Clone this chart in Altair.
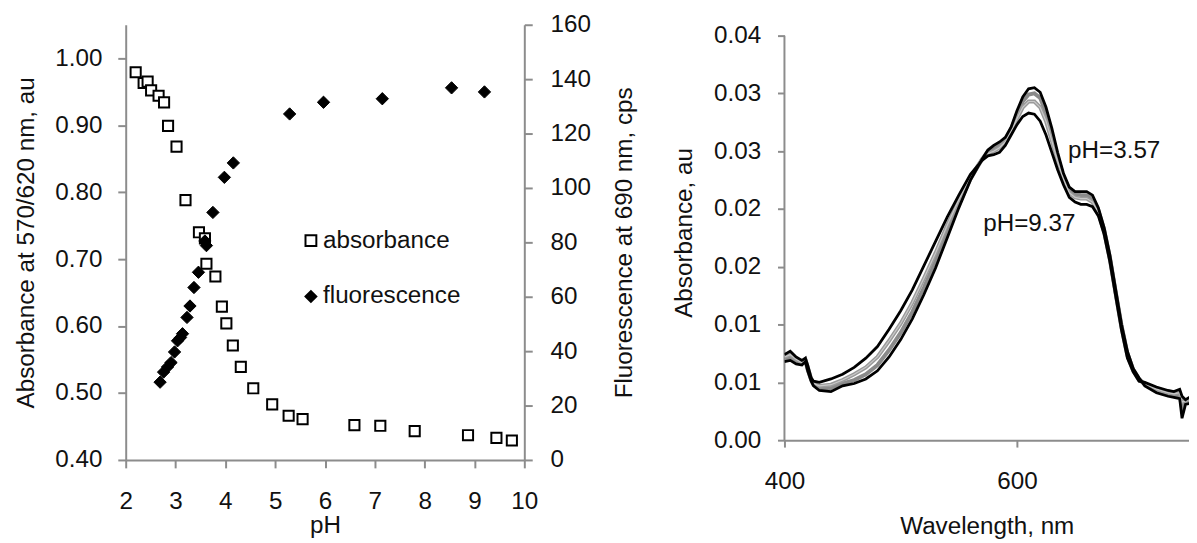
import altair as alt
import pandas as pd

# ---------------- data: left panel ----------------
abs_ph = [2.20, 2.36, 2.44, 2.51, 2.66, 2.77, 2.85, 3.02, 3.20, 3.47, 3.59, 3.62, 3.80,
          3.93, 4.02, 4.15, 4.31, 4.56, 4.94, 5.27, 5.55, 6.59, 7.11, 7.80, 8.87, 9.44, 9.75]
abs_val = [0.979, 0.963, 0.965, 0.952, 0.944, 0.934, 0.899, 0.868, 0.788, 0.740, 0.731, 0.693, 0.674,
           0.629, 0.604, 0.571, 0.539, 0.507, 0.483, 0.466, 0.461, 0.452, 0.451, 0.443, 0.437, 0.433, 0.429]

fl_ph = [2.69, 2.76, 2.84, 2.91, 2.98, 3.04, 3.10, 3.14, 3.23, 3.29, 3.37, 3.46, 3.59, 3.62,
         3.75, 3.98, 4.16, 5.29, 5.97, 7.15, 8.54, 9.20]
fl_val = [28.6, 32.3, 34.2, 35.8, 39.7, 43.8, 45.0, 46.4, 52.4, 56.6, 63.4, 69.0, 80.5, 78.8,
          91.0, 103.9, 109.2, 127.2, 131.5, 132.8, 136.8, 135.3]

series_names = ["absorbance", "fluorescence"]

# ---------------- data: right panel ----------------
wl = [400, 405, 410, 415, 418, 420, 423, 425, 430, 440, 450, 460, 470, 480, 490, 500, 510, 520,
      530, 540, 550, 560, 570, 575, 580, 585, 590, 595, 600, 605, 610, 615, 620, 625, 630, 635,
      640, 645, 650, 655, 660, 665, 670, 675, 680, 685, 690, 695, 700, 705, 710, 720, 730, 735,
      740, 742, 745, 750]
spec_low = [0.0074, 0.0077, 0.0072, 0.0069, 0.0071, 0.0065, 0.0054, 0.0051, 0.0050, 0.0053, 0.0057,
            0.0063, 0.0071, 0.0081, 0.0096, 0.0112, 0.0130, 0.0151, 0.0172, 0.0193, 0.0212, 0.0230,
            0.0242, 0.0246, 0.0247, 0.0249, 0.0255, 0.0264, 0.0273, 0.0280, 0.0283, 0.0282, 0.0276,
            0.0264, 0.0249, 0.0234, 0.0221, 0.0210, 0.0206, 0.0204, 0.0204, 0.0202, 0.0194, 0.0178,
            0.0154, 0.0124, 0.0095, 0.0071, 0.0059, 0.0051, 0.0050, 0.0046, 0.0043, 0.0042, 0.0044,
            0.0038, 0.0035, 0.0038]
spec_high = [0.0068, 0.0069, 0.0066, 0.0065, 0.0068, 0.0060, 0.0051, 0.0047, 0.0043, 0.0042, 0.0047,
             0.0049, 0.0053, 0.0060, 0.0072, 0.0087, 0.0105, 0.0126, 0.0149, 0.0175, 0.0201, 0.0225,
             0.0243, 0.0251, 0.0255, 0.0258, 0.0262, 0.0271, 0.0285, 0.0297, 0.0304, 0.0305, 0.0301,
             0.0288, 0.0270, 0.0249, 0.0231, 0.0219, 0.0215, 0.0215, 0.0215, 0.0212, 0.0201, 0.0184,
             0.0160, 0.0130, 0.0100, 0.0077, 0.0062, 0.0054, 0.0047, 0.0041, 0.0038, 0.0037, 0.0036,
             0.0019, 0.0031, 0.0032]
spec_g1 = [0.0070, 0.0071, 0.0068, 0.0066, 0.0069, 0.0061, 0.0052, 0.0048, 0.0045, 0.0045, 0.0049,
           0.0052, 0.0057, 0.0065, 0.0078, 0.0093, 0.0111, 0.0132, 0.0155, 0.0180, 0.0204, 0.0226,
           0.0243, 0.0250, 0.0253, 0.0256, 0.0260, 0.0269, 0.0282, 0.0293, 0.0299, 0.0300, 0.0296,
           0.0283, 0.0265, 0.0245, 0.0228, 0.0217, 0.0213, 0.0212, 0.0212, 0.0209, 0.0199, 0.0182,
           0.0158, 0.0128, 0.0099, 0.0075, 0.0061, 0.0053, 0.0048, 0.0043, 0.0040, 0.0039, 0.0039,
           0.0028, 0.0033, 0.0034]
spec_g2 = [0.0072, 0.0074, 0.0070, 0.0067, 0.0070, 0.0063, 0.0053, 0.0049, 0.0047, 0.0048, 0.0052,
           0.0057, 0.0063, 0.0072, 0.0086, 0.0101, 0.0119, 0.0140, 0.0162, 0.0186, 0.0208, 0.0228,
           0.0243, 0.0248, 0.0250, 0.0253, 0.0258, 0.0267, 0.0278, 0.0288, 0.0293, 0.0293, 0.0288,
           0.0276, 0.0259, 0.0241, 0.0226, 0.0214, 0.0210, 0.0209, 0.0209, 0.0206, 0.0197, 0.0180,
           0.0156, 0.0126, 0.0097, 0.0073, 0.0060, 0.0052, 0.0049, 0.0044, 0.0041, 0.0040, 0.0041,
           0.0033, 0.0034, 0.0036]

note_text = ["pH=3.57", "pH=9.37"]
note_wl = [644, 571]
note_abs = [0.0250, 0.0187]

y_right_ticks = [0, 0.005, 0.01, 0.015, 0.02, 0.025, 0.03, 0.035]
y_right_max = 0.035
wl_min, wl_max = 400, 748

# ---------------- style ----------------
FONT = "Liberation Sans"
FS = 24.5
TXT = "#111111"
AX = "#8c8c8c"

# ---------------- left panel ----------------
df_abs = pd.DataFrame({"pH": abs_ph, "value": abs_val, "series": series_names[0]})
df_fl = pd.DataFrame({"pH": fl_ph, "value": fl_val, "series": series_names[1]})

x_left = alt.X("pH:Q", scale=alt.Scale(domain=[2, 10], nice=False, zero=False),
               axis=alt.Axis(values=list(range(2, 11)), title="pH", tickSize=8,
                             labelPadding=22, titlePadding=1, labelFlush=False))

legend_def = alt.Legend(title=None, orient="none", legendX=175, legendY=206, padding=0,
                        rowPadding=31.5, labelFontSize=FS, labelFont=FONT, labelColor=TXT,
                        labelOffset=0, symbolStrokeWidth=2)

shape_enc = alt.Shape("series:N", scale=alt.Scale(domain=series_names, range=["square", "diamond"]),
                      legend=legend_def)
fill_enc = alt.Fill("series:N", scale=alt.Scale(domain=series_names, range=["white", "black"]),
                    legend=legend_def)
stroke_enc = alt.Stroke("series:N", scale=alt.Scale(domain=series_names, range=["black", "black"]),
                        legend=legend_def)

abs_layer = alt.Chart(df_abs).mark_point(size=105, strokeWidth=2, opacity=1).encode(
    x=x_left,
    y=alt.Y("value:Q", scale=alt.Scale(domain=[0.40, 1.05], nice=False, zero=False),
            axis=alt.Axis(values=[0.4, 0.5, 0.6, 0.7, 0.8, 0.9, 1.0], format=".2f",
                          title="Absorbance at 570/620 nm, au", tickSize=8, labelPadding=16,
                          titlePadding=17)),
    shape=shape_enc, fill=fill_enc, stroke=stroke_enc,
)

fl_layer = alt.Chart(df_fl).mark_point(size=155, strokeWidth=1, opacity=1).encode(
    x=x_left,
    y=alt.Y("value:Q", scale=alt.Scale(domain=[0, 160], nice=False),
            axis=alt.Axis(orient="right", values=list(range(0, 161, 20)),
                          title="Fluorescence at 690 nm, cps", tickSize=8, labelPadding=18,
                          titleAngle=270, titleBaseline="top", titlePadding=22)),
    shape=shape_enc, fill=fill_enc, stroke=stroke_enc,
)

left = alt.layer(abs_layer, fl_layer).resolve_scale(y="independent").properties(width=403, height=440)

# ---------------- right panel ----------------
# plot area is 420 px tall; the value axis (0..0.035) occupies the lower 409 px
R_H = 420
y_top = y_right_max * R_H / 409.0

df_spec = pd.DataFrame({"wl": wl, "low": spec_low, "high": spec_high, "g1": spec_g1, "g2": spec_g2})

x_scale_r = alt.Scale(domain=[wl_min, wl_max], nice=False, zero=False)
x_right = alt.X("wl:Q", scale=x_scale_r,
                axis=alt.Axis(values=[400, 600], title="Wavelength, nm", tickSize=7,
                              labelPadding=23, titlePadding=22, labelFlush=False))
y_scale_r = alt.Scale(domain=[0, y_top], nice=False)
y_axis_r = alt.Axis(values=y_right_ticks, title="Absorbance, au", tickSize=7, labelPadding=17,
                    titlePadding=17, domain=False,
                    labelExpr="format(round(datum.value*100 + 0.000001)/100, '.2f')")


def spec_line(col, color, width):
    return alt.Chart(df_spec).mark_line(color=color, strokeWidth=width, clip=True).encode(
        x=x_right, y=alt.Y(f"{col}:Q", scale=y_scale_r, axis=y_axis_r))


band1 = spec_line("g1", "#8a8a8a", 4)
band2 = spec_line("g2", "#9a9a9a", 4)
light = spec_line("g2", "#c8c8c8", 1.2)
blk1 = spec_line("low", "black", 2.8)
blk2 = spec_line("high", "black", 2.8)

# y-axis line of the right panel (from 0 to the top tick)
axis_line = alt.Chart(pd.DataFrame({"x0": [wl_min], "y0": [0.0], "y1": [y_right_max]})).mark_rule(
    color=AX, strokeWidth=2).encode(
    x=alt.X("x0:Q", scale=x_scale_r), y=alt.Y("y0:Q", scale=y_scale_r), y2="y1:Q")

df_note = pd.DataFrame({"wl": note_wl, "a": note_abs, "t": note_text})
notes = alt.Chart(df_note).mark_text(align="left", baseline="middle", font=FONT, fontSize=FS,
                                      color=TXT).encode(
    x=alt.X("wl:Q", scale=x_scale_r),
    y=alt.Y("a:Q", scale=y_scale_r), text="t:N")

right = alt.layer(axis_line, band1, band2, light, blk1, blk2, notes).properties(width=409, height=R_H)

chart = alt.hconcat(left, right, spacing=36).properties(
    padding={"left": 5, "top": 1, "right": 0, "bottom": 0}
).configure_view(stroke=None).configure_axis(
    grid=False, domainColor=AX, tickColor=AX, domainWidth=2, tickWidth=2,
    labelFont=FONT, labelFontSize=FS, labelColor=TXT,
    titleFont=FONT, titleFontSize=FS, titleColor=TXT, titleFontWeight="normal",
    labelOverlap=False,
).configure_legend(symbolSize=120)

chart.save("out.html", embed_options={"renderer": "svg", "actions": False})
